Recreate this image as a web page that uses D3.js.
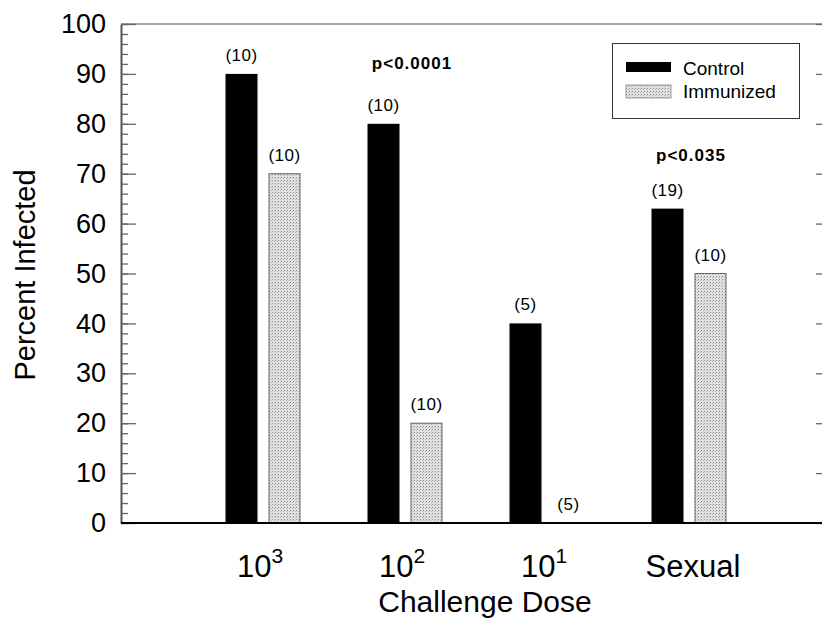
<!DOCTYPE html>
<html>
<head>
<meta charset="utf-8">
<script src="https://cdn.jsdelivr.net/npm/d3@7"></script>
<style>
  body { margin: 0; background: #fff; }
  text { font-family: "Liberation Sans", Arial, sans-serif; fill: #000; }
</style>
</head>
<body>
<script>
const canvWidth = 822, canvHeight = 636;
const plot = {left: 121, right: 831, top: 24, bottom: 523};

// data
const doseBase = ["10", "10", "10", "Sexual"];
const doseExp = ["3", "2", "1", ""];
const series = ["Control", "Immunized"];
const controlValues = [90, 80, 40, 63];
const immunizedValues = [70, 20, 0, 50];
const controlN = ["(10)", "(10)", "(5)", "(19)"];
const immunizedN = ["(10)", "(10)", "(5)", "(10)"];
const pLabels = ["p<0.0001", "p<0.035"];
const pGroup = [1, 3];
const pLevel = [91, 72.6];
const yTicks = d3.range(0, 101, 10);
const yMinorTicks = d3.range(0, 101, 2);

const svg = d3.select("body").append("svg")
    .attr("width", canvWidth)
    .attr("height", canvHeight);

// stipple pattern for immunized bars
const defs = svg.append("defs");
const pat = defs.append("pattern")
    .attr("id", "stipple")
    .attr("patternUnits", "userSpaceOnUse")
    .attr("width", 3).attr("height", 3);
pat.append("rect").attr("width", 3).attr("height", 3).attr("fill", "#e2e2e2");
pat.append("rect").attr("x", 0).attr("y", 0).attr("width", 1).attr("height", 1).attr("fill", "#8a8a8a");
pat.append("rect").attr("x", 2).attr("y", 1).attr("width", 1).attr("height", 1).attr("fill", "#b4b4b4");

const xScale = d3.scaleLinear().domain([0, 5]).range([plot.left, plot.right]);
const yScale = d3.scaleLinear().domain([0, 100]).range([plot.bottom, plot.top]);
const inner = d3.scaleBand().domain(series).range([-37.5, 37.5]).paddingInner(0.256);

// frame lines
svg.append("line")
    .attr("x1", plot.left).attr("x2", plot.right)
    .attr("y1", plot.top).attr("y2", plot.top)
    .attr("stroke", "#888").attr("stroke-width", 1.5);

// minor ticks
svg.append("g")
    .attr("transform", `translate(${plot.left},0)`)
    .call(d3.axisLeft(yScale).tickValues(yMinorTicks).tickSize(-7).tickFormat(""))
    .call(g => g.select(".domain").remove())
    .call(g => g.selectAll("line").attr("stroke", "#666").attr("stroke-width", 1.3));

// left axis
svg.append("g")
    .attr("transform", `translate(${plot.left},0)`)
    .call(d3.axisLeft(yScale).tickValues(yTicks).tickSize(-15).tickSizeOuter(0).tickPadding(15))
    .call(g => g.select(".domain").attr("stroke", "#555").attr("stroke-width", 2))
    .call(g => g.selectAll(".tick line").attr("stroke", "#666").attr("stroke-width", 1.3))
    .call(g => g.selectAll(".tick text")
        .attr("font-size", "27px")
        .attr("font-family", "'Liberation Sans', Arial, sans-serif")
        .attr("fill", "#000"));

// right axis
svg.append("g")
    .attr("transform", `translate(${plot.right},0)`)
    .call(d3.axisRight(yScale).tickValues(yTicks).tickSize(-15).tickSizeOuter(0).tickFormat(""))
    .call(g => g.select(".domain").attr("stroke", "#555").attr("stroke-width", 2))
    .call(g => g.selectAll(".tick line").attr("stroke", "#666").attr("stroke-width", 1.3));

// bars
const groups = svg.append("g").attr("id", "bars")
    .selectAll("g")
    .data(controlValues.map((c, i) => i))
    .enter().append("g")
    .attr("transform", i => `translate(${xScale(i + 1)},0)`);

groups.append("rect")
    .attr("x", inner("Control"))
    .attr("width", inner.bandwidth())
    .attr("y", i => yScale(controlValues[i]))
    .attr("height", i => yScale(0) - yScale(controlValues[i]))
    .attr("fill", "#000");

groups.append("rect")
    .attr("x", inner("Immunized") + 0.5)
    .attr("width", inner.bandwidth() - 1)
    .attr("y", i => yScale(immunizedValues[i]))
    .attr("height", i => yScale(0) - yScale(immunizedValues[i]))
    .attr("fill", "url(#stipple)")
    .attr("stroke", "#666")
    .attr("stroke-width", 1);

groups.append("text")
    .attr("x", inner("Control") + inner.bandwidth() / 2)
    .attr("y", i => yScale(controlValues[i]) - 13)
    .attr("text-anchor", "middle")
    .attr("font-size", "17px")
    .attr("letter-spacing", "0.5px")
    .text(i => controlN[i]);

groups.append("text")
    .attr("x", inner("Immunized") + inner.bandwidth() / 2)
    .attr("y", i => yScale(immunizedValues[i]) - 13)
    .attr("text-anchor", "middle")
    .attr("font-size", "17px")
    .attr("letter-spacing", "0.5px")
    .text(i => immunizedN[i]);

// bottom axis line
svg.append("line")
    .attr("x1", plot.left).attr("x2", plot.right)
    .attr("y1", plot.bottom).attr("y2", plot.bottom)
    .attr("stroke", "#000").attr("stroke-width", 2);

// x tick labels
const xLabels = svg.append("g").selectAll("text")
    .data(doseBase)
    .enter().append("text")
    .attr("x", (d, i) => xScale(i + 1) + (doseExp[i] ? -3 : 4))
    .attr("y", 577)
    .attr("text-anchor", "middle")
    .attr("font-size", "31px");
xLabels.append("tspan").text(d => d);
xLabels.append("tspan")
    .attr("dy", -14)
    .attr("font-size", "21px")
    .text((d, i) => doseExp[i]);

// p-values
svg.append("g").selectAll("text")
    .data(pLabels)
    .enter().append("text")
    .attr("x", (d, i) => xScale(pGroup[i] + 1) + (i === 0 ? 7 : 2))
    .attr("y", (d, i) => yScale(pLevel[i]))
    .attr("text-anchor", "middle")
    .attr("font-size", "17px")
    .attr("font-weight", "bold")
    .attr("letter-spacing", "1px")
    .text(d => d);

// axis titles
svg.append("text")
    .attr("transform", "translate(35,275) rotate(-90)")
    .attr("text-anchor", "middle")
    .attr("font-size", "29px")
    .text("Percent Infected");

svg.append("text")
    .attr("x", 485)
    .attr("y", 612)
    .attr("text-anchor", "middle")
    .attr("font-size", "30px")
    .text("Challenge Dose");

// legend
const legend = svg.append("g").attr("id", "legend");
legend.append("rect")
    .attr("x", 612.5).attr("y", 43.5)
    .attr("width", 187).attr("height", 75)
    .attr("fill", "#fff")
    .attr("stroke", "#333").attr("stroke-width", 1);

const legendFill = ["#000", "url(#stipple)"];
const legendRows = legend.selectAll("g.row")
    .data(series)
    .enter().append("g")
    .attr("class", "row")
    .attr("transform", (d, i) => `translate(626,${62 + i * 23})`);

legendRows.append("rect")
    .attr("width", 45)
    .attr("height", (d, i) => i === 0 ? 10 : 13)
    .attr("fill", (d, i) => legendFill[i])
    .attr("stroke", (d, i) => i === 0 ? "none" : "#888")
    .attr("stroke-width", 0.8);

legendRows.append("text")
    .attr("x", 57)
    .attr("y", 13)
    .attr("font-size", "19px")
    .text(d => d);
</script>
</body>
</html>
